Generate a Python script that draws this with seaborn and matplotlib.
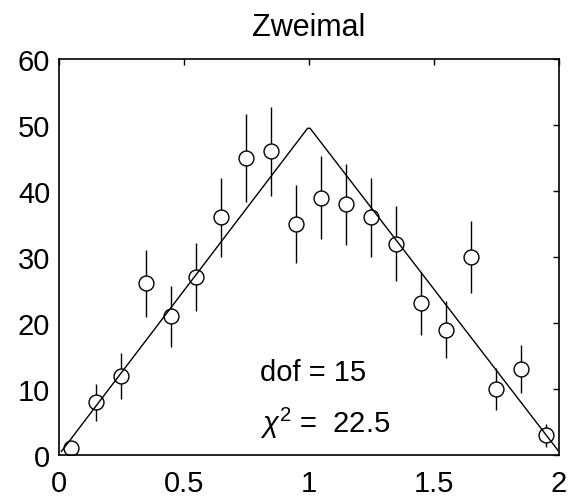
import numpy as np
import pandas as pd
import seaborn as sns
import matplotlib.pyplot as plt

OUT_PATH = 'out.png'

# bin centres and counts
x_bins = [0.05, 0.15, 0.25, 0.35, 0.45, 0.55, 0.65, 0.75, 0.85, 0.95,
          1.05, 1.15, 1.25, 1.35, 1.45, 1.55, 1.65, 1.75, 1.85, 1.95]
counts = [1, 8, 12, 26, 21, 27, 36, 45, 46, 35,
          39, 38, 36, 32, 23, 19, 30, 10, 13, 3]

# model curve (triangle)
model_x = [0.01, 0.995, 1.005, 2.0]
model_y = [0.5, 49.5, 49.5, 0.5]

x_ticks = [0, 0.5, 1, 1.5, 2]
y_ticks = [0, 10, 20, 30, 40, 50, 60]

title = 'Zweimal'
dof_text = 'dof = 15'
chi_text = r'$\chi^2$ =  22.5'


def main():
    sns.set_style('white')
    plt.rcParams['font.family'] = ['Liberation Sans', 'DejaVu Sans']
    plt.rcParams['text.color'] = 'black'
    plt.rcParams['axes.labelcolor'] = 'black'
    plt.rcParams['axes.titlecolor'] = 'black'
    plt.rcParams['mathtext.fontset'] = 'custom'
    plt.rcParams['mathtext.rm'] = 'Liberation Sans'
    plt.rcParams['mathtext.it'] = 'Liberation Sans:italic'

    df = pd.DataFrame({'x': x_bins, 'n': counts})
    df['err'] = np.sqrt(df['n'])
    model = pd.DataFrame({'x': model_x, 'y': model_y})

    fig = plt.figure(figsize=(5.77, 5.02), dpi=100)
    ax = fig.add_axes([0.1017, 0.0916, 0.8671, 0.7889])

    # error bars behind the open circles
    ax.vlines(df['x'], df['n'] - df['err'], df['n'] + df['err'],
              color='black', linewidth=1.0, zorder=1)
    sns.scatterplot(data=df, x='x', y='n', ax=ax, s=115, marker='o',
                    facecolor='white', edgecolor='black', linewidth=1.0,
                    zorder=2)
    sns.lineplot(data=model, x='x', y='y', ax=ax, color='black',
                 linewidth=1.0, sort=False, zorder=3)

    ax.set_xlim(0, 2)
    ax.set_ylim(0, 60)
    ax.set_xticks(x_ticks)
    ax.set_xticklabels(['0', '0.5', '1', '1.5', '2'])
    ax.set_yticks(y_ticks)
    ax.set_xlabel('')
    ax.set_ylabel('')

    ax.tick_params(axis='both', direction='in', length=4, width=1.0,
                   top=True, right=True, labelsize=21, colors='black')
    ax.tick_params(axis='x', pad=10)
    ax.tick_params(axis='y', pad=6)
    for sp in ax.spines.values():
        sp.set_visible(True)
        sp.set_color('black')
        sp.set_linewidth(1.2)

    ax.text(0.805, 12.6, dof_text, fontsize=21, va='center', ha='left',
            color='black')
    ax.text(0.805, 5.0, chi_text, fontsize=21, va='center', ha='left',
            color='black')
    ax.set_title(title, fontsize=22, pad=17, color='black')

    fig.savefig(OUT_PATH, dpi=100)


if __name__ == '__main__':
    main()
